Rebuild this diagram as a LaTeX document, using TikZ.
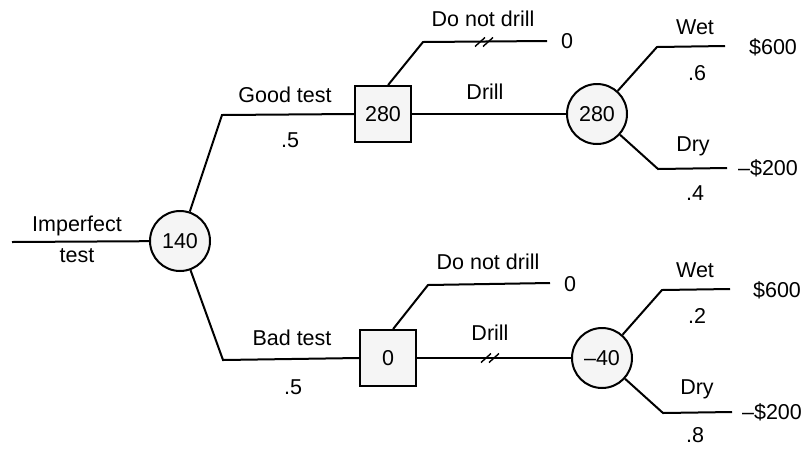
\documentclass[tikz,border=0pt]{standalone}
\usepackage{fontspec}
\setmainfont{Liberation Sans}
\begin{document}
\begin{tikzpicture}[x=1pt,y=-1pt,line width=2pt,
  every node/.style={font=\fontsize{21.5}{24}\selectfont},
  chance/.style={circle,draw,fill=black!4,minimum size=60pt,inner sep=0pt},
  decis/.style={rectangle,draw,fill=black!4,minimum size=56pt,inner sep=0pt},
  lbl/.style={inner sep=0pt},
  brk/.style={line width=1.4pt}]
\useasboundingbox (0,0) rectangle (808,448);
% nodes
\node[chance] (c0) at (180,241) {140};
\node[decis] (s1) at (383,114) {280};
\node[chance] (c1) at (597,114) {280};
\node[decis] (s2) at (388,358) {0};
\node[chance] (c2) at (602,358) {\textendash40};
% coordinates
\coordinate (in) at (12,242);
\coordinate (g) at (222,115);
\coordinate (b) at (223,360);
\coordinate (u1) at (423,42);
\coordinate (u1e) at (547,41);
\coordinate (u2) at (428,285);
\coordinate (u2e) at (550,283);
\coordinate (w1) at (657,47);
\coordinate (w1e) at (725,46);
\coordinate (d1) at (658,169);
\coordinate (d1e) at (727,168);
\coordinate (w2) at (662,290);
\coordinate (w2e) at (730,289);
\coordinate (d2) at (663,413);
\coordinate (d2e) at (732,412);
\coordinate (k1) at (480,42);
\coordinate (k2) at (488,42);
\coordinate (k3) at (486,358);
\coordinate (k4) at (494,358);
% connectors
\draw (in) -- (c0);
\draw (c0) -- (g) -- (s1.west);
\draw (c0) -- (b) -- (s2.west);
\draw (s1.80) -- (u1) -- (u1e);
\draw (s1.east) -- (c1.west);
\draw (s2.80) -- (u2) -- (u2e);
\draw (s2.east) -- (c2.west);
\draw (c1) -- (w1) -- (w1e);
\draw (c1) -- (d1) -- (d1e);
\draw (c2) -- (w2) -- (w2e);
\draw (c2) -- (d2) -- (d2e);
% break marks
\foreach \k in {k1,k2,k3,k4}
  \draw[brk] ([shift={(-5,4.5)}]\k) -- ([shift={(5,-4.5)}]\k);
% labels
\node[lbl] (t0a) at (77,226) {Imperfect};
\node[lbl] (t0b) at (77,256) {test};
\node[lbl] (tg) at (285,95) {Good test};
\node[lbl] (pg) at (290,140) {.5};
\node[lbl] (tb) at (292,338) {Bad test};
\node[lbl] (pb) at (293,387) {.5};
\node[lbl] (n1) at (483,19) {Do not drill};
\node[lbl] (z1) at (567,41) {0};
\node[lbl] (dr1) at (485,92) {Drill};
\node[lbl] (n2) at (488,262) {Do not drill};
\node[lbl] (z2) at (570,284) {0};
\node[lbl] (dr2) at (490,333) {Drill};
\node[lbl] (tw1) at (695,27) {Wet};
\node[lbl] (pw1) at (697,73) {.6};
\node[lbl] (v1) at (773,47) {\$600};
\node[lbl] (td1) at (693,146) {Dry};
\node[lbl] (pd1) at (695,193) {.4};
\node[lbl] (v2) at (768,168) {\textendash\$200};
\node[lbl] (tw2) at (695,270) {Wet};
\node[lbl] (pw2) at (697,316) {.2};
\node[lbl] (v3) at (777,290) {\$600};
\node[lbl] (td2) at (697,389) {Dry};
\node[lbl] (pd2) at (695,435) {.8};
\node[lbl] (v4) at (772,412) {\textendash\$200};
\end{tikzpicture}
\end{document}
